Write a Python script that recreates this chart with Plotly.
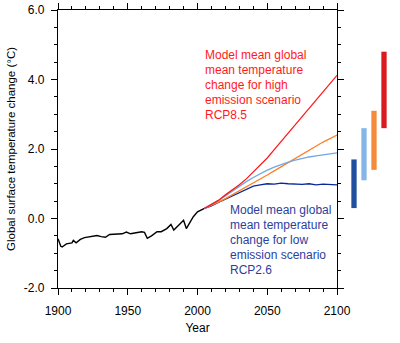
import plotly.graph_objects as go

# ---- data ----
hist_years = [1900, 1902, 1903, 1906, 1910, 1911, 1913, 1916, 1919, 1924, 1928, 1931, 1934,
              1937, 1942, 1946, 1949, 1952, 1956, 1960, 1962, 1964, 1967, 1971, 1974, 1978,
              1981, 1983, 1987, 1990, 1992, 1997, 2000, 2004, 2005]
hist_vals = [-0.58, -0.80, -0.82, -0.73, -0.70, -0.63, -0.70, -0.60, -0.55, -0.52, -0.49, -0.52,
             -0.54, -0.46, -0.46, -0.44, -0.39, -0.44, -0.41, -0.38, -0.40, -0.57, -0.50, -0.38,
             -0.38, -0.29, -0.17, -0.33, -0.17, -0.05, -0.29, 0.05, 0.19, 0.27, 0.29]

scen_years = [2005, 2010, 2015, 2020, 2025, 2030, 2035, 2040, 2045, 2050, 2055, 2060, 2065,
              2070, 2075, 2080, 2085, 2090, 2095, 2100]
rcp85 = [0.29, 0.41, 0.52, 0.68, 0.82, 0.97, 1.14, 1.34, 1.53, 1.74, 1.98, 2.22, 2.47, 2.71,
         2.95, 3.19, 3.43, 3.66, 3.89, 4.12]
rcp60 = [0.29, 0.37, 0.47, 0.57, 0.68, 0.79, 0.91, 1.02, 1.13, 1.25, 1.37, 1.49, 1.61, 1.73,
         1.85, 1.97, 2.09, 2.20, 2.30, 2.40]
rcp45 = [0.29, 0.40, 0.52, 0.65, 0.79, 0.93, 1.06, 1.18, 1.29, 1.39, 1.48, 1.56, 1.62, 1.68,
         1.73, 1.77, 1.80, 1.84, 1.86, 1.89]
rcp26 = [0.29, 0.36, 0.46, 0.55, 0.65, 0.74, 0.84, 0.93, 0.97, 1.00, 0.99, 1.02, 1.00, 0.99,
         0.98, 1.00, 0.97, 0.99, 0.98, 0.97]

range_names = ["RCP2.6", "RCP4.5", "RCP6.0", "RCP8.5"]
range_low = [0.3, 1.1, 1.4, 2.6]
range_high = [1.7, 2.6, 3.1, 4.8]

y_tickvals = [-2, 0, 2, 4, 6]
y_ticktext = ["-2.0", "0.0", "2.0", "4.0", "6.0"]
x_tickvals = [1900, 1950, 2000, 2050, 2100]
x_ticktext = ["1900", "1950", "2000", "2050", "2100"]

red_text = ["Model mean global", "mean temperature", "change for high",
            "emission scenario", "RCP8.5"]
blue_text = ["Model mean global", "mean temperature", "change for low",
             "emission scenario", "RCP2.6"]

# ---- styles ----
C_RED = "#ff1a1a"
C_ORANGE = "#ff7f27"
C_LBLUE = "#6fa8e8"
C_DBLUE = "#0a2a9a"
BAR_COLORS = ["#1f4f9e", "#86b6e8", "#f58a3a", "#d91a1f"]
FONT = "Liberation Sans, Arial, sans-serif"

fig = go.Figure()
fig.add_trace(go.Scatter(x=hist_years, y=hist_vals, mode="lines",
                         line=dict(color="black", width=1.4)))
for vals, col in [(rcp26, C_DBLUE), (rcp60, C_ORANGE), (rcp45, C_LBLUE), (rcp85, C_RED)]:
    fig.add_trace(go.Scatter(x=scen_years, y=vals, mode="lines",
                             line=dict(color=col, width=1.3)))

fig.add_trace(go.Bar(x=range_names, y=[h - l for h, l in zip(range_high, range_low)],
                     base=range_low, marker=dict(color=BAR_COLORS, line=dict(width=0)),
                     xaxis="x2", yaxis="y2"))

axis_common = dict(showline=True, linecolor="black", linewidth=1.3, mirror="allticks",
                   ticks="outside", ticklen=6, tickwidth=1.2, tickcolor="black",
                   showgrid=False, zeroline=False, automargin=False,
                   tickfont=dict(family=FONT, size=12, color="black"))

fig.update_layout(
    width=400, height=343,
    margin=dict(l=58, r=8, t=10, b=55, autoexpand=False),
    paper_bgcolor="white", plot_bgcolor="white",
    showlegend=False,
    bargap=0.47,
    xaxis=dict(domain=[0, 279 / 334], range=[1900, 2100], tickvals=x_tickvals,
               ticktext=x_ticktext, ticklabelstandoff=5,
               minor=dict(dtick=10, ticks="outside", ticklen=3, tickwidth=1.2,
                          tickcolor="black", showgrid=False),
               title=dict(text="Year", font=dict(family=FONT, size=12, color="black"),
                          standoff=7),
               **axis_common),
    yaxis=dict(range=[-2, 6], tickvals=y_tickvals, ticktext=y_ticktext,
               ticklabelstandoff=4,
               minor=dict(dtick=0.5, ticks="outside", ticklen=3, tickwidth=1.2,
                          tickcolor="black", showgrid=False),
               title=dict(text="Global surface temperature change (°C)",
                          font=dict(family=FONT, size=11.5, color="black"), standoff=5),
               **axis_common),
    xaxis2=dict(domain=[291 / 334, 331 / 334], range=[-0.5, 3.5], visible=False,
                anchor="y2", automargin=False),
    yaxis2=dict(range=[-2, 6], visible=False, anchor="x2", automargin=False),
)

for i, t in enumerate(red_text):
    fig.add_annotation(x=2003.7, y=4.70 - i * 0.428, xref="x", yref="y", text=t,
                       showarrow=False, xanchor="left", yanchor="middle",
                       font=dict(family=FONT, size=12, color="#ff1a1a"))
for i, t in enumerate(blue_text):
    fig.add_annotation(x=2021.6, y=0.24 - i * 0.428, xref="x", yref="y", text=t,
                       showarrow=False, xanchor="left", yanchor="middle",
                       font=dict(family=FONT, size=12, color="#2c3e9e"))

fig.write_html("out.html")
